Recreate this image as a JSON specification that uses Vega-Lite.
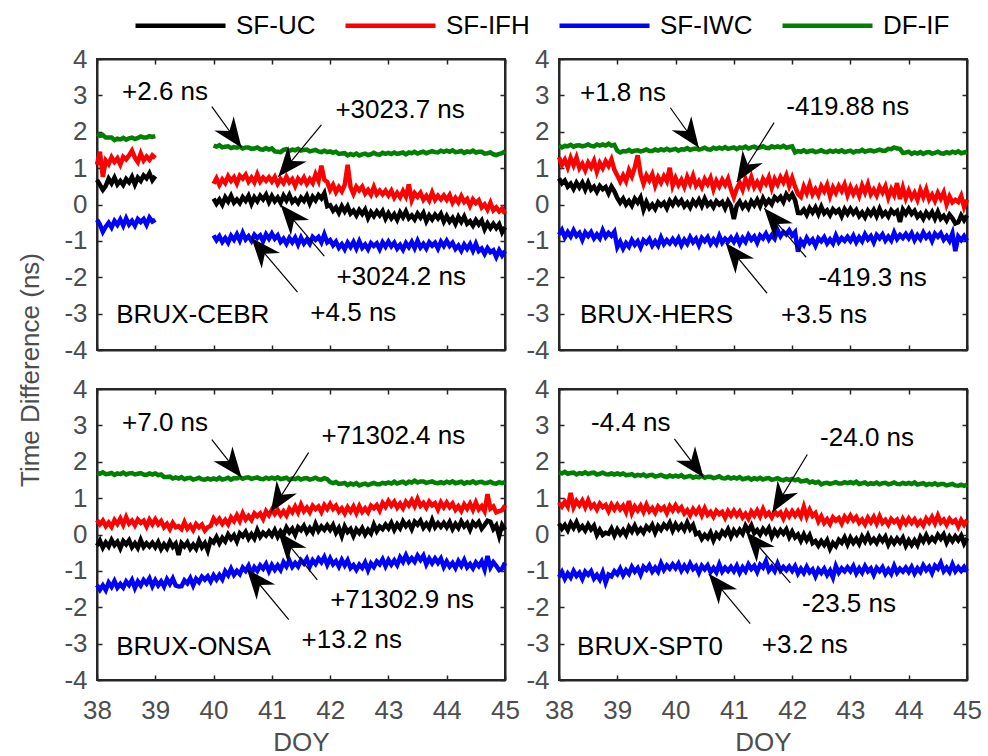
{
"$schema": "https://vega.github.io/schema/vega-lite/v6.json",
"padding": {"left": 16, "top": -22, "right": 5, "bottom": 3},
"data": {"values": "doy,st,SF-UC,SF-IFH,SF-IWC,DF-IF\n38,C,.68,1.09,-.42,1.94\n38.05,C,.54,1.45,-.55,1.89\n38.1,C,.40,.76,-.75,1.91\n38.15,C,.51,1.21,-.61,1.84\n38.2,C,.71,1.11,-.50,1.84\n38.25,C,.58,1.30,-.63,1.84\n38.3,C,.74,1.17,-.45,1.77\n38.35,C,.55,1.27,-.56,1.81\n38.4,C,.65,1.10,-.41,1.79\n38.45,C,.54,1.31,-.58,1.83\n38.5,C,.70,1.24,-.38,1.78\n38.55,C,.61,1.35,-.55,1.82\n38.6,C,.76,1.48,-.45,1.84\n38.65,C,.55,1.29,-.58,1.80\n38.7,C,.74,1.17,-.40,1.83\n38.75,C,.65,1.40,-.48,1.87\n38.8,C,.80,1.21,-.40,1.84\n38.85,C,.72,1.32,-.56,1.84\n38.9,C,.86,1.23,-.36,1.88\n38.95,C,.67,1.35,-.47,1.86\n39,C,.78,1.28,-.42,1.88\n39.05,C,,,,\n39.1,C,,,,\n39.15,C,,,,\n39.2,C,,,,\n39.25,C,,,,\n39.3,C,,,,\n39.35,C,,,,\n39.4,C,,,,\n39.45,C,,,,\n39.5,C,,,,\n39.55,C,,,,\n39.6,C,,,,\n39.65,C,,,,\n39.7,C,,,,\n39.75,C,,,,\n39.8,C,,,,\n39.85,C,,,,\n39.9,C,,,,\n39.95,C,,,,\n40,C,.16,.57,-.85,1.62\n40.05,C,.02,.72,-.98,1.59\n40.1,C,.14,.54,-.87,1.63\n40.15,C,.00,.69,-1.03,1.57\n40.2,C,.20,.59,-.92,1.59\n40.25,C,.08,.78,-1.05,1.60\n40.3,C,.24,.65,-.86,1.55\n40.35,C,.05,.75,-.97,1.58\n40.4,C,.14,.58,-.82,1.56\n40.45,C,.04,.79,-.99,1.59\n40.5,C,.20,.71,-.78,1.54\n40.55,C,.10,.82,-.96,1.57\n40.6,C,.24,.63,-.87,1.57\n40.65,C,.02,.74,-1.00,1.53\n40.7,C,.20,.61,-.83,1.54\n40.75,C,.09,.83,-.92,1.57\n40.8,C,.24,.63,-.85,1.52\n40.85,C,.14,.74,-1.01,1.51\n40.9,C,.27,.65,-.82,1.55\n40.95,C,.07,.75,-.94,1.51\n41,C,.23,.63,-.80,1.54\n41.05,C,.09,.76,-.94,1.46\n41.1,C,.19,.57,-.85,1.45\n41.15,C,.05,.70,-1.03,1.44\n41.2,C,.24,.59,-.94,1.50\n41.25,C,.11,.76,-1.08,1.52\n41.3,C,.26,.61,-.92,1.47\n41.35,C,.07,.70,-1.04,1.51\n41.4,C,.15,.51,-.91,1.49\n41.45,C,.04,.71,-1.10,1.53\n41.5,C,.19,.61,-.91,1.48\n41.55,C,.10,.74,-1.07,1.50\n41.6,C,.24,.57,-.96,1.51\n41.65,C,.03,.70,-1.08,1.46\n41.7,C,.21,.59,-.89,1.48\n41.75,C,.11,.83,-.97,1.50\n41.8,C,.26,.65,-.89,1.46\n41.85,C,.17,1.07,-1.04,1.44\n41.9,C,.31,.68,-.82,1.48\n41.95,C,-.05,.62,-1.04,1.44\n42,C,-.02,.40,-.98,1.46\n42.05,C,-.17,.54,-1.12,1.42\n42.1,C,-.08,.34,-1.02,1.45\n42.15,C,-.23,.48,-1.19,1.39\n42.2,C,-.05,.36,-1.09,1.40\n42.25,C,-.19,.54,-1.23,1.41\n42.3,C,-.05,1.09,-1.05,1.35\n42.35,C,-.25,.48,-1.17,1.39\n42.4,C,-.17,.29,-1.03,1.36\n42.45,C,-.30,.49,-1.21,1.40\n42.5,C,-.15,.39,-1.01,1.35\n42.55,C,-.26,.49,-1.19,1.38\n42.6,C,-.14,.30,-1.10,1.40\n42.65,C,-.37,.40,-1.23,1.36\n42.7,C,-.21,.27,-1.06,1.38\n42.75,C,-.32,.48,-1.14,1.42\n42.8,C,-.19,.28,-1.07,1.38\n42.85,C,-.30,.38,-1.23,1.37\n42.9,C,-.18,.28,-1.04,1.42\n42.95,C,-.39,.38,-1.16,1.39\n43,C,-.24,.25,-1.02,1.42\n43.05,C,-.38,.38,-1.15,1.39\n43.1,C,-.27,.19,-1.05,1.43\n43.15,C,-.42,.32,-1.21,1.39\n43.2,C,-.22,.20,-1.11,1.41\n43.25,C,-.35,.37,-1.24,1.43\n43.3,C,-.19,.22,-1.06,1.38\n43.35,C,-.38,.55,-1.17,1.43\n43.4,C,-.30,.12,-1.03,1.41\n43.45,C,-.41,.31,-1.20,1.45\n43.5,C,-.25,.21,-1.00,1.40\n43.55,C,-.36,.32,-1.18,1.43\n43.6,C,-.23,.13,-1.08,1.45\n43.65,C,-.46,.24,-1.21,1.41\n43.7,C,-.30,.11,-1.04,1.44\n43.75,C,-.41,.33,-1.13,1.47\n43.8,C,-.28,.13,-1.05,1.44\n43.85,C,-.38,.24,-1.21,1.43\n43.9,C,-.26,.14,-1.02,1.48\n43.95,C,-.47,.25,-1.14,1.45\n44,C,-.32,.13,-1.00,1.48\n44.05,C,-.47,.26,-1.14,1.45\n44.1,C,-.37,.05,-1.05,1.49\n44.15,C,-.53,.18,-1.22,1.44\n44.2,C,-.34,.06,-1.13,1.45\n44.25,C,-.48,.23,-1.27,1.47\n44.3,C,-.33,.07,-1.10,1.42\n44.35,C,-.53,.15,-1.22,1.46\n44.4,C,-.46,-.04,-1.09,1.44\n44.45,C,-.58,.14,-1.27,1.48\n44.5,C,-.43,.04,-1.08,1.43\n44.55,C,-.55,.12,-1.28,1.45\n44.6,C,-.44,-.08,-1.21,1.45\n44.65,C,-.68,.00,-1.36,1.40\n44.7,C,-.52,-.14,-1.20,1.41\n44.75,C,-.65,.05,-1.31,1.43\n44.8,C,-.53,-.16,-1.26,1.38\n44.85,C,-.65,-.08,-1.44,1.36\n44.9,C,-.54,-.19,-1.26,1.39\n44.95,C,-.76,-.11,-1.40,1.41\n45,C,-.62,-.25,-1.28,1.46\n38,H,.72,1.30,-.83,1.62\n38.05,H,.58,1.09,-.70,1.57\n38.1,H,.66,1.23,-.90,1.61\n38.15,H,.49,1.02,-.76,1.60\n38.2,H,.57,1.28,-.88,1.64\n38.25,H,.43,1.08,-.71,1.59\n38.3,H,.60,1.29,-.86,1.62\n38.35,H,.47,1.00,-.78,1.63\n38.4,H,.60,1.12,-.97,1.60\n38.45,H,.41,.94,-.77,1.62\n38.5,H,.60,1.15,-.87,1.65\n38.55,H,.41,1.02,-.76,1.61\n38.6,H,.49,1.20,-.93,1.60\n38.65,H,.35,.90,-.82,1.65\n38.7,H,.51,1.14,-.93,1.62\n38.75,H,.42,1.00,-.71,1.65\n38.8,H,.48,1.19,-.89,1.62\n38.85,H,.31,1.06,-.78,1.67\n38.9,H,.49,1.24,-.86,1.62\n38.95,H,.36,.96,-.75,1.64\n39,H,.18,.80,-1.17,1.48\n39.05,H,.05,.63,-1.02,1.43\n39.1,H,.16,.80,-1.21,1.47\n39.15,H,.00,.64,-1.06,1.46\n39.2,H,.10,.94,-1.16,1.50\n39.25,H,-.03,.77,-.98,1.45\n39.3,H,.16,1.02,-1.11,1.48\n39.35,H,.05,1.35,-1.01,1.49\n39.4,H,.19,.83,-1.18,1.46\n39.45,H,-.14,.57,-.98,1.48\n39.5,H,.07,.80,-1.06,1.51\n39.55,H,-.10,.66,-.95,1.47\n39.6,H,.00,.83,-1.13,1.47\n39.65,H,-.12,.52,-1.01,1.51\n39.7,H,.06,.75,-1.13,1.48\n39.75,H,-.03,.60,-.91,1.52\n39.8,H,.05,.78,-1.09,1.49\n39.85,H,-.10,.64,-.98,1.53\n39.9,H,.10,1.01,-1.07,1.49\n39.95,H,-.01,.52,-.95,1.51\n40,H,.14,.73,-1.07,1.53\n40.05,H,.01,.54,-.93,1.48\n40.1,H,.11,.68,-1.12,1.52\n40.15,H,-.05,.49,-.97,1.51\n40.2,H,.05,.76,-1.08,1.55\n40.25,H,-.08,.57,-.90,1.50\n40.3,H,.10,.79,-1.04,1.53\n40.35,H,-.01,.52,-.94,1.54\n40.4,H,.13,.64,-1.12,1.51\n40.45,H,-.04,.48,-.92,1.53\n40.5,H,.16,.70,-1.01,1.56\n40.55,H,-.02,.56,-.90,1.52\n40.6,H,.06,.73,-1.08,1.51\n40.65,H,-.07,.42,-.96,1.56\n40.7,H,.09,.65,-1.08,1.53\n40.75,H,.00,.50,-.86,1.56\n40.8,H,.07,.68,-1.05,1.53\n40.85,H,-.10,.54,-.94,1.58\n40.9,H,.09,.71,-1.02,1.53\n40.95,H,-.04,.42,-.91,1.55\n41,H,-.40,.20,-1.03,1.57\n41.05,H,-.03,.44,-.88,1.52\n41.1,H,.08,.60,-1.07,1.57\n41.15,H,-.08,.41,-.92,1.55\n41.2,H,.03,.70,-1.03,1.59\n41.25,H,-.10,.51,-.84,1.54\n41.3,H,.09,.75,-.97,1.57\n41.35,H,-.02,.48,-.88,1.59\n41.4,H,.13,.62,-1.05,1.55\n41.45,H,-.04,.46,-.85,1.57\n41.5,H,.17,.70,-.93,1.60\n41.55,H,.01,.57,-.80,1.56\n41.6,H,.12,.75,-.96,1.55\n41.65,H,.01,.45,-.84,1.60\n41.7,H,.20,.70,-.94,1.57\n41.75,H,.12,.55,-.70,1.60\n41.8,H,.21,.75,-.87,1.57\n41.85,H,.07,.61,-.75,1.61\n41.9,H,.28,.80,-.82,1.56\n41.95,H,.16,.51,-.71,1.58\n42,H,.28,.73,-.85,1.60\n42.05,H,.12,.49,-.76,1.43\n42.1,H,-.23,.29,-1.30,1.47\n42.15,H,-.24,.21,-1.00,1.45\n42.2,H,-.14,.49,-1.11,1.49\n42.25,H,-.28,.31,-.92,1.44\n42.3,H,-.10,.55,-1.05,1.47\n42.35,H,-.22,.28,-.96,1.48\n42.4,H,-.08,.42,-1.13,1.44\n42.45,H,-.26,.26,-.93,1.46\n42.5,H,-.06,.50,-1.01,1.49\n42.55,H,-.24,.36,-.90,1.45\n42.6,H,-.16,.54,-1.07,1.44\n42.65,H,-.29,.23,-.96,1.48\n42.7,H,-.13,.47,-1.07,1.45\n42.75,H,-.22,.32,-.85,1.48\n42.8,H,-.15,.51,-1.03,1.45\n42.85,H,-.32,.37,-.92,1.49\n42.9,H,-.13,.55,-1.00,1.44\n42.95,H,-.26,.26,-.89,1.46\n43,H,-.12,.48,-1.00,1.48\n43.05,H,-.25,.29,-.86,1.43\n43.1,H,-.15,.44,-1.04,1.47\n43.15,H,-.32,.24,-.90,1.46\n43.2,H,-.22,.52,-1.01,1.50\n43.25,H,-.35,.33,-.82,1.45\n43.3,H,-.17,.56,-.96,1.48\n43.35,H,-.28,.28,-.87,1.49\n43.4,H,-.15,.41,-1.04,1.46\n43.45,H,-.32,.25,-.84,1.48\n43.5,H,-.12,.48,-.93,1.51\n43.55,H,-.30,.33,-.82,1.48\n43.6,H,-.21,.50,-.99,1.48\n43.65,H,-.33,.19,-.88,1.53\n43.7,H,-.16,.42,-.99,1.52\n43.75,H,-.25,.26,-.77,1.57\n43.8,H,-.18,.59,-.95,1.54\n43.85,H,-.48,.15,-.84,1.53\n43.9,H,-.14,.46,-.92,1.42\n43.95,H,-.26,.17,-.81,1.43\n44,H,-.12,.38,-.93,1.45\n44.05,H,-.26,.18,-.79,1.39\n44.1,H,-.17,.32,-.98,1.43\n44.15,H,-.34,.13,-.84,1.40\n44.2,H,-.25,.40,-.95,1.44\n44.25,H,-.39,.20,-.77,1.39\n44.3,H,-.22,.42,-.91,1.43\n44.35,H,-.34,.14,-.82,1.44\n44.4,H,-.21,.27,-1.00,1.40\n44.45,H,-.39,.10,-.80,1.42\n44.5,H,-.20,.32,-.89,1.45\n44.55,H,-.39,.16,-.79,1.41\n44.6,H,-.31,.33,-.97,1.40\n44.65,H,-.44,.00,-.87,1.44\n44.7,H,-.28,.22,-1.00,1.41\n44.75,H,-.38,.06,-.79,1.45\n44.8,H,-.52,.13,-1.28,1.42\n44.85,H,-.49,.07,-.88,1.46\n44.9,H,-.30,.24,-.98,1.41\n44.95,H,-.43,-.07,-.87,1.43\n45,H,-.30,.13,-1.00,1.45\n38,O,-.31,.40,-1.39,1.70\n38.05,O,-.17,.28,-1.52,1.67\n38.1,O,-.36,.38,-1.40,1.71\n38.15,O,-.22,.23,-1.53,1.66\n38.2,O,-.33,.33,-1.32,1.67\n38.25,O,-.15,.21,-1.44,1.69\n38.3,O,-.29,.40,-1.28,1.64\n38.35,O,-.20,.29,-1.46,1.68\n38.4,O,-.38,.44,-1.36,1.66\n38.45,O,-.18,.27,-1.46,1.70\n38.5,O,-.27,.48,-1.29,1.65\n38.55,O,-.16,.30,-1.39,1.68\n38.6,O,-.35,.38,-1.25,1.69\n38.65,O,-.24,.25,-1.47,1.65\n38.7,O,-.37,.41,-1.29,1.67\n38.75,O,-.15,.32,-1.40,1.69\n38.8,O,-.34,.38,-1.25,1.65\n38.85,O,-.24,.22,-1.35,1.64\n38.9,O,-.33,.41,-1.21,1.68\n38.95,O,-.23,.28,-1.42,1.65\n39,O,-.35,.42,-1.26,1.68\n39.05,O,-.21,.28,-1.40,1.63\n39.1,O,-.40,.37,-1.29,1.65\n39.15,O,-.27,.20,-1.43,1.58\n39.2,O,-.38,.29,-1.23,1.58\n39.25,O,-.20,.15,-1.36,1.59\n39.3,O,-.34,.32,-1.21,1.54\n39.35,O,-.25,.20,-1.40,1.57\n39.4,O,-.56,.23,-1.43,1.54\n39.45,O,-.24,.15,-1.42,1.58\n39.5,O,-.33,.34,-1.26,1.52\n39.55,O,-.22,.16,-1.34,1.55\n39.6,O,-.39,.25,-1.20,1.56\n39.65,O,-.28,.12,-1.40,1.51\n39.7,O,-.39,.29,-1.22,1.53\n39.75,O,-.17,.20,-1.31,1.56\n39.8,O,-.35,.27,-1.16,1.52\n39.85,O,-.24,.11,-1.24,1.51\n39.9,O,-.44,.20,-1.15,1.54\n39.95,O,-.15,.24,-1.29,1.51\n40,O,-.22,.44,-1.12,1.54\n40.05,O,-.07,.32,-1.24,1.51\n40.1,O,-.24,.43,-1.11,1.56\n40.15,O,-.09,.29,-1.23,1.51\n40.2,O,-.19,.40,-1.01,1.53\n40.25,O,.00,.28,-1.12,1.56\n40.3,O,-.12,.47,-.94,1.51\n40.35,O,-.02,.37,-1.11,1.55\n40.4,O,-.19,.53,-1.00,1.54\n40.45,O,.03,.37,-1.09,1.58\n40.5,O,-.05,.58,-.91,1.53\n40.55,O,.07,.41,-1.00,1.56\n40.6,O,-.11,.51,-.86,1.57\n40.65,O,.01,.40,-1.08,1.53\n40.7,O,-.11,.58,-.90,1.55\n40.75,O,.12,.50,-1.00,1.57\n40.8,O,-.06,.58,-.85,1.53\n40.85,O,.05,.43,-.94,1.52\n40.9,O,-.03,.64,-.81,1.56\n40.95,O,.08,.53,-1.01,1.53\n41,O,-.03,.68,-.84,1.56\n41.05,O,.12,.56,-.97,1.53\n41.1,O,-.06,.67,-.85,1.57\n41.15,O,.09,.53,-.97,1.52\n41.2,O,-.01,.64,-.76,1.54\n41.25,O,.19,.52,-.88,1.56\n41.3,O,.06,.71,-.71,1.50\n41.35,O,.16,.61,-.89,1.54\n41.4,O,-.01,.77,-.78,1.52\n41.45,O,.20,.61,-.88,1.56\n41.5,O,.12,.82,-.71,1.51\n41.55,O,.24,.64,-.80,1.54\n41.6,O,.06,.74,-.67,1.55\n41.65,O,.18,.61,-.88,1.51\n41.7,O,.06,.79,-.71,1.53\n41.75,O,.29,.70,-.81,1.56\n41.8,O,.10,.77,-.66,1.52\n41.85,O,.22,.62,-.76,1.51\n41.9,O,.13,.81,-.62,1.55\n41.95,O,.25,.70,-.83,1.52\n42,O,.13,.84,-.66,1.44\n42.05,O,.26,.70,-.82,1.41\n42.1,O,.05,.79,-.73,1.44\n42.15,O,.18,.63,-.88,1.39\n42.2,O,-.04,.72,-.70,1.40\n42.25,O,.22,.58,-.85,1.42\n42.3,O,.07,.75,-.71,1.36\n42.35,O,.15,.63,-.92,1.40\n42.4,O,-.04,.77,-.84,1.37\n42.45,O,.14,.59,-.97,1.41\n42.5,O,.04,.78,-.83,1.35\n42.55,O,.17,.62,-.92,1.38\n42.6,O,.00,.72,-.77,1.40\n42.65,O,.13,.61,-.98,1.36\n42.7,O,.03,.79,-.79,1.39\n42.75,O,.27,.72,-.89,1.42\n42.8,O,.09,.81,-.74,1.38\n42.85,O,.22,.66,-.82,1.38\n42.9,O,.15,.87,-.68,1.42\n42.95,O,.27,.76,-.87,1.40\n43,O,.17,.92,-.70,1.43\n43.05,O,.32,.79,-.83,1.40\n43.1,O,.13,.90,-.71,1.45\n43.15,O,.28,.74,-.84,1.40\n43.2,O,.17,.85,-.63,1.43\n43.25,O,.36,.72,-.75,1.45\n43.3,O,.23,.90,-.57,1.40\n43.35,O,.32,.80,-.75,1.45\n43.4,O,.15,.94,-.65,1.43\n43.45,O,.35,.78,-.75,1.48\n43.5,O,.27,.98,-.58,1.43\n43.55,O,.38,.79,-.70,1.46\n43.6,O,.19,.87,-.58,1.46\n43.65,O,.30,.74,-.82,1.42\n43.7,O,.18,.90,-.66,1.44\n43.75,O,.40,.80,-.79,1.46\n43.8,O,.20,.86,-.66,1.42\n43.85,O,.31,.69,-.78,1.41\n43.9,O,.21,.88,-.66,1.44\n43.95,O,.32,.75,-.89,1.41\n44,O,.20,.88,-.74,1.45\n44.05,O,.34,.75,-.88,1.42\n44.1,O,.15,.85,-.78,1.46\n44.15,O,.29,.68,-.92,1.41\n44.2,O,.18,.78,-.73,1.43\n44.25,O,.36,.65,-.86,1.45\n44.3,O,.22,.83,-.70,1.40\n44.35,O,.31,.71,-.90,1.44\n44.4,O,.13,.85,-.81,1.42\n44.45,O,.33,.68,-.93,1.46\n44.5,O,.24,.88,-.77,1.41\n44.55,O,.34,.69,-.87,1.44\n44.6,O,.16,.78,-.74,1.45\n44.65,O,.26,.64,-.96,1.41\n44.7,O,.38,1.11,-.59,1.42\n44.75,O,.35,.71,-.90,1.45\n44.8,O,.15,.77,-.76,1.41\n44.85,O,.25,.61,-.86,1.40\n44.9,O,-.04,.64,-.98,1.44\n44.95,O,.26,.67,-.94,1.41\n45,O,.13,.80,-.78,1.44\n38,S,.30,.88,-1.17,1.71\n38.05,S,.16,.77,-1.03,1.68\n38.1,S,.26,.90,-1.22,1.72\n38.15,S,.12,.77,-1.07,1.67\n38.2,S,.31,1.14,-1.18,1.69\n38.25,S,.18,.75,-1.00,1.70\n38.3,S,.34,.92,-1.14,1.65\n38.35,S,.14,.80,-1.05,1.69\n38.4,S,.23,.93,-1.22,1.67\n38.45,S,.11,.75,-1.02,1.71\n38.5,S,.27,.94,-1.11,1.66\n38.55,S,.14,.75,-1.01,1.69\n38.6,S,.24,.83,-1.21,1.70\n38.65,S,-.01,.69,-1.11,1.65\n38.7,S,.13,.85,-1.24,1.67\n38.75,S,-.01,.75,-1.04,1.70\n38.8,S,.05,.81,-1.32,1.66\n38.85,S,.02,.64,-1.10,1.65\n38.9,S,.16,.82,-1.15,1.68\n38.95,S,-.03,.69,-1.01,1.65\n39,S,.14,.82,-1.09,1.68\n39.05,S,.01,.69,-.94,1.65\n39.1,S,.12,.79,-1.12,1.68\n39.15,S,-.01,.62,-.98,1.63\n39.2,S,.20,.92,-1.08,1.64\n39.25,S,.08,.59,-.89,1.66\n39.3,S,.24,.77,-1.02,1.61\n39.35,S,.06,.66,-.92,1.64\n39.4,S,.16,.79,-1.10,1.62\n39.45,S,.05,.62,-.89,1.65\n39.5,S,.22,.82,-.97,1.60\n39.55,S,.13,.64,-.85,1.63\n39.6,S,.26,.73,-1.02,1.64\n39.65,S,.05,.60,-.91,1.59\n39.7,S,.23,.77,-1.02,1.61\n39.75,S,.13,.68,-.79,1.64\n39.8,S,.27,.75,-.97,1.60\n39.85,S,.18,.59,-.85,1.58\n39.9,S,.32,.78,-.94,1.62\n39.95,S,.11,.66,-.82,1.59\n40,S,.28,.80,-.93,1.62\n40.05,S,.15,.66,-.80,1.59\n40.1,S,.26,.75,-.99,1.63\n40.15,S,.13,.58,-.86,1.57\n40.2,S,.33,.67,-.98,1.59\n40.25,S,.15,.53,-.80,1.61\n40.3,S,.26,.70,-.95,1.56\n40.35,S,.01,.58,-.87,1.59\n40.4,S,.05,.71,-1.05,1.57\n40.45,S,-.12,.53,-.86,1.61\n40.5,S,-.01,.72,-.96,1.56\n40.55,S,-.10,.54,-.85,1.59\n40.6,S,.05,.62,-1.03,1.59\n40.65,S,-.16,.49,-.92,1.55\n40.7,S,.02,.65,-1.04,1.57\n40.75,S,-.08,.56,-.82,1.60\n40.8,S,.08,.62,-1.02,1.55\n40.85,S,-.01,.46,-.91,1.54\n40.9,S,.14,.64,-1.00,1.58\n40.95,S,-.06,.52,-.89,1.54\n41,S,.11,.65,-1.01,1.57\n41.05,S,.00,.52,-.86,1.54\n41.1,S,.13,.63,-1.05,1.58\n41.15,S,.02,.47,-.90,1.52\n41.2,S,.24,.57,-1.01,1.54\n41.25,S,.10,.44,-.82,1.56\n41.3,S,.25,.63,-.95,1.51\n41.35,S,.04,.52,-.86,1.55\n41.4,S,.12,.66,-1.03,1.52\n41.45,S,.00,.50,-.83,1.56\n41.5,S,.15,.70,-.91,1.51\n41.55,S,.04,.52,-.73,1.54\n41.6,S,.17,.60,-.99,1.55\n41.65,S,-.06,.47,-.89,1.50\n41.7,S,.11,.63,-1.01,1.52\n41.75,S,-.01,.54,-.80,1.55\n41.8,S,.12,.61,-.99,1.51\n41.85,S,.02,.44,-.89,1.49\n41.9,S,.14,.63,-.98,1.53\n41.95,S,-.07,.50,-.88,1.50\n42,S,.08,.64,-1.00,1.53\n42.05,S,-.08,.52,-.87,1.49\n42.1,S,.00,.64,-1.07,1.52\n42.15,S,-.17,.49,-.94,1.46\n42.2,S,.00,.76,-1.06,1.47\n42.25,S,-.16,.49,-.89,1.49\n42.3,S,-.02,.68,-1.04,1.43\n42.35,S,-.24,.51,-.96,1.46\n42.4,S,-.18,.59,-1.15,1.42\n42.45,S,-.31,.36,-.96,1.45\n42.5,S,-.18,.50,-1.06,1.38\n42.55,S,-.29,.32,-.94,1.41\n42.6,S,-.16,.42,-1.11,1.42\n42.65,S,-.39,.29,-.99,1.39\n42.7,S,-.23,.47,-1.18,1.41\n42.75,S,-.32,.38,-.87,1.44\n42.8,S,-.15,.45,-1.05,1.40\n42.85,S,-.23,.30,-.93,1.40\n42.9,S,-.08,.49,-1.01,1.44\n42.95,S,-.27,.38,-.90,1.41\n43,S,-.09,.52,-1.01,1.44\n43.05,S,-.23,.39,-.87,1.41\n43.1,S,-.12,.48,-1.07,1.45\n43.15,S,-.26,.32,-.93,1.39\n43.2,S,-.06,.41,-1.05,1.41\n43.25,S,-.19,.28,-.87,1.43\n43.3,S,-.02,.46,-1.01,1.38\n43.35,S,-.21,.34,-.93,1.41\n43.4,S,-.12,.48,-1.11,1.39\n43.45,S,-.23,.30,-.92,1.43\n43.5,S,-.07,.50,-1.01,1.38\n43.55,S,-.18,.32,-.90,1.41\n43.6,S,-.06,.40,-1.08,1.42\n43.65,S,-.28,.27,-.96,1.38\n43.7,S,-.12,.43,-1.08,1.40\n43.75,S,-.24,.34,-.86,1.43\n43.8,S,-.11,.41,-1.05,1.39\n43.85,S,-.22,.24,-.94,1.38\n43.9,S,-.09,.43,-1.02,1.42\n43.95,S,-.31,.30,-.91,1.39\n44,S,-.16,.44,-1.03,1.42\n44.05,S,-.29,.32,-.89,1.39\n44.1,S,-.16,.42,-1.07,1.43\n44.15,S,-.29,.27,-.93,1.37\n44.2,S,-.07,.37,-1.03,1.39\n44.25,S,-.19,.25,-.85,1.41\n44.3,S,-.02,.44,-.98,1.36\n44.35,S,-.19,.33,-.89,1.39\n44.4,S,-.09,.48,-1.06,1.37\n44.45,S,-.18,.31,-.86,1.41\n44.5,S,-.01,.52,-.94,1.36\n44.55,S,-.12,.33,-.78,1.39\n44.6,S,.00,.41,-1.01,1.39\n44.65,S,-.22,.27,-.91,1.35\n44.7,S,-.06,.43,-1.03,1.37\n44.75,S,-.18,.33,-.82,1.39\n44.8,S,-.05,.39,-1.01,1.35\n44.85,S,-.16,.22,-.90,1.34\n44.9,S,-.03,.40,-1.00,1.37\n44.95,S,-.25,.27,-.89,1.34\n45,S,-.10,.40,-1.01,1.37", "format": {"type": "csv", "parse": {"doy": "number", "SF-UC": "number", "SF-IFH": "number", "SF-IWC": "number", "DF-IF": "number"}}},
"columns": 2,
"spacing": {"row": 39, "column": 54},
"bounds": "flush",
"concat": [
 {
  "width": 408, "height": 291,
  "layer": [
   {"transform": [{"filter": "datum.st === 'C'"}, {"fold": ["SF-UC", "SF-IFH", "SF-IWC", "DF-IF"], "as": ["series", "value"]}],
    "mark": {"type": "line", "invalid": "break-paths-filter-domains"},
    "encoding": {
     "x": {"field": "doy", "type": "quantitative", "scale": {"domain": [38, 45], "nice": false}, "axis": {"orient": "bottom", "values": [38, 39, 40, 41, 42, 43, 44, 45], "labels": false, "title": null}},
     "y": {"field": "value", "type": "quantitative", "scale": {"domain": [-4, 4], "nice": false}, "axis": {"orient": "left", "values": [-4, -3, -2, -1, 0, 1, 2, 3, 4], "labelExpr": "'' + datum.value", "title": "Time Difference (ns)", "titleY": 310.5, "titlePadding": 20}},
     "color": {"field": "series", "type": "nominal", "scale": {"domain": ["SF-UC", "SF-IFH", "SF-IWC", "DF-IF"], "range": ["#000000", "#ff0000", "#0000ff", "#008000"]}, "legend": {"orient": "none", "legendX": 36, "legendY": -81, "direction": "horizontal", "title": null, "symbolType": "stroke", "symbolSize": 8100, "symbolStrokeWidth": 2.5, "labelFontSize": 26, "labelColor": "#000000", "labelOffset": 8, "columnPadding": 20, "labelLimit": 0}},
     "strokeWidth": {"field": "series", "type": "nominal", "scale": {"domain": ["SF-UC", "SF-IFH", "SF-IWC", "DF-IF"], "range": [4.5, 4.5, 4.5, 3]}, "legend": null}
    }},
   {"data": {"values": [{"x": 39.97, "y": 2.69, "x2": 40.48, "y2": 1.56}, {"x": 41.85, "y": 2.19, "x2": 41.11, "y2": 0.76}, {"x": 41.90, "y": -1.42, "x2": 41.15, "y2": -0.01}, {"x": 41.44, "y": -2.41, "x2": 40.65, "y2": -0.92}]},
    "mark": {"type": "rule", "color": "#000000", "strokeWidth": 1.2},
    "encoding": {
     "x": {"field": "x", "type": "quantitative", "scale": {"domain": [38, 45], "nice": false}, "axis": {"orient": "top", "values": [38, 39, 40, 41, 42, 43, 44, 45], "labels": false, "title": null}},
     "y": {"field": "y", "type": "quantitative", "scale": {"domain": [-4, 4], "nice": false}, "axis": {"orient": "right", "values": [-4, -3, -2, -1, 0, 1, 2, 3, 4], "labels": false, "title": null}},
     "x2": {"field": "x2"}, "y2": {"field": "y2"}
    }},
   {"data": {"values": [{"x": 39.97, "y": 2.69, "x2": 40.48, "y2": 1.56}, {"x": 41.85, "y": 2.19, "x2": 41.11, "y2": 0.76}, {"x": 41.90, "y": -1.42, "x2": 41.15, "y2": -0.01}, {"x": 41.44, "y": -2.41, "x2": 40.65, "y2": -0.92}]},
    "transform": [{"calculate": "atan2(-(datum.y2 - datum.y) * 36.4, (datum.x2 - datum.x) * 58.29) * 180 / PI", "as": "ang"}],
    "mark": {"type": "point", "shape": "M0,0L-2,-0.8L-1.38,0L-2,0.8Z", "filled": true, "color": "#000000", "opacity": 1, "size": 900, "strokeWidth": 0},
    "encoding": {
     "x": {"field": "x2", "type": "quantitative", "scale": {"domain": [38, 45], "nice": false}, "axis": null},
     "y": {"field": "y2", "type": "quantitative", "scale": {"domain": [-4, 4], "nice": false}, "axis": null},
     "angle": {"field": "ang", "type": "quantitative", "scale": null}
    }},
   {"data": {"values": [{"x": 38.43, "y": 3.10, "t": "+2.6 ns"}, {"x": 42.09, "y": 2.60, "t": "+3023.7 ns"}, {"x": 42.11, "y": -2.00, "t": "+3024.2 ns"}, {"x": 41.66, "y": -2.99, "t": "+4.5 ns"}, {"x": 38.33, "y": -3.04, "t": "BRUX-CEBR"}]},
    "mark": {"type": "text", "align": "left", "baseline": "middle", "fontSize": 26, "font": "Liberation Sans", "color": "#000000"},
    "encoding": {
     "x": {"field": "x", "type": "quantitative", "scale": {"domain": [38, 45], "nice": false}, "axis": null},
     "y": {"field": "y", "type": "quantitative", "scale": {"domain": [-4, 4], "nice": false}, "axis": null},
     "text": {"field": "t", "type": "nominal"}
    }}
  ],
  "resolve": {"axis": {"x": "independent", "y": "independent"}}
 },
 {
  "width": 408, "height": 291,
  "layer": [
   {"transform": [{"filter": "datum.st === 'H'"}, {"fold": ["SF-UC", "SF-IFH", "SF-IWC", "DF-IF"], "as": ["series", "value"]}],
    "mark": {"type": "line", "invalid": "break-paths-filter-domains"},
    "encoding": {
     "x": {"field": "doy", "type": "quantitative", "scale": {"domain": [38, 45], "nice": false}, "axis": {"orient": "bottom", "values": [38, 39, 40, 41, 42, 43, 44, 45], "labels": false, "title": null}},
     "y": {"field": "value", "type": "quantitative", "scale": {"domain": [-4, 4], "nice": false}, "axis": {"orient": "left", "values": [-4, -3, -2, -1, 0, 1, 2, 3, 4], "labelExpr": "'' + datum.value", "title": null}},
     "color": {"field": "series", "type": "nominal", "scale": {"domain": ["SF-UC", "SF-IFH", "SF-IWC", "DF-IF"], "range": ["#000000", "#ff0000", "#0000ff", "#008000"]}, "legend": {"orient": "none", "legendX": 36, "legendY": -81, "direction": "horizontal", "title": null, "symbolType": "stroke", "symbolSize": 8100, "symbolStrokeWidth": 2.5, "labelFontSize": 26, "labelColor": "#000000", "labelOffset": 8, "columnPadding": 20, "labelLimit": 0}},
     "strokeWidth": {"field": "series", "type": "nominal", "scale": {"domain": ["SF-UC", "SF-IFH", "SF-IWC", "DF-IF"], "range": [4.5, 4.5, 4.5, 3]}, "legend": null}
    }},
   {"data": {"values": [{"x": 39.91, "y": 2.66, "x2": 40.40, "y2": 1.56}, {"x": 41.69, "y": 2.25, "x2": 41.05, "y2": 0.62}, {"x": 42.24, "y": -1.45, "x2": 41.52, "y2": -0.10}, {"x": 41.57, "y": -2.44, "x2": 40.86, "y2": -1.06}]},
    "mark": {"type": "rule", "color": "#000000", "strokeWidth": 1.2},
    "encoding": {
     "x": {"field": "x", "type": "quantitative", "scale": {"domain": [38, 45], "nice": false}, "axis": {"orient": "top", "values": [38, 39, 40, 41, 42, 43, 44, 45], "labels": false, "title": null}},
     "y": {"field": "y", "type": "quantitative", "scale": {"domain": [-4, 4], "nice": false}, "axis": {"orient": "right", "values": [-4, -3, -2, -1, 0, 1, 2, 3, 4], "labels": false, "title": null}},
     "x2": {"field": "x2"}, "y2": {"field": "y2"}
    }},
   {"data": {"values": [{"x": 39.91, "y": 2.66, "x2": 40.40, "y2": 1.56}, {"x": 41.69, "y": 2.25, "x2": 41.05, "y2": 0.62}, {"x": 42.24, "y": -1.45, "x2": 41.52, "y2": -0.10}, {"x": 41.57, "y": -2.44, "x2": 40.86, "y2": -1.06}]},
    "transform": [{"calculate": "atan2(-(datum.y2 - datum.y) * 36.4, (datum.x2 - datum.x) * 58.29) * 180 / PI", "as": "ang"}],
    "mark": {"type": "point", "shape": "M0,0L-2,-0.8L-1.38,0L-2,0.8Z", "filled": true, "color": "#000000", "opacity": 1, "size": 900, "strokeWidth": 0},
    "encoding": {
     "x": {"field": "x2", "type": "quantitative", "scale": {"domain": [38, 45], "nice": false}, "axis": null},
     "y": {"field": "y2", "type": "quantitative", "scale": {"domain": [-4, 4], "nice": false}, "axis": null},
     "angle": {"field": "ang", "type": "quantitative", "scale": null}
    }},
   {"data": {"values": [{"x": 38.36, "y": 3.07, "t": "+1.8 ns"}, {"x": 41.90, "y": 2.69, "t": "-419.88 ns"}, {"x": 42.45, "y": -2.02, "t": "-419.3 ns"}, {"x": 41.81, "y": -3.05, "t": "+3.5 ns"}, {"x": 38.36, "y": -3.04, "t": "BRUX-HERS"}]},
    "mark": {"type": "text", "align": "left", "baseline": "middle", "fontSize": 26, "font": "Liberation Sans", "color": "#000000"},
    "encoding": {
     "x": {"field": "x", "type": "quantitative", "scale": {"domain": [38, 45], "nice": false}, "axis": null},
     "y": {"field": "y", "type": "quantitative", "scale": {"domain": [-4, 4], "nice": false}, "axis": null},
     "text": {"field": "t", "type": "nominal"}
    }}
  ],
  "resolve": {"axis": {"x": "independent", "y": "independent"}}
 },
 {
  "width": 408, "height": 291,
  "layer": [
   {"transform": [{"filter": "datum.st === 'O'"}, {"fold": ["SF-UC", "SF-IFH", "SF-IWC", "DF-IF"], "as": ["series", "value"]}],
    "mark": {"type": "line", "invalid": "break-paths-filter-domains"},
    "encoding": {
     "x": {"field": "doy", "type": "quantitative", "scale": {"domain": [38, 45], "nice": false}, "axis": {"orient": "bottom", "values": [38, 39, 40, 41, 42, 43, 44, 45], "labelFlush": false, "labelExpr": "'' + datum.value", "labelPadding": 22, "title": "DOY", "titlePadding": 6}},
     "y": {"field": "value", "type": "quantitative", "scale": {"domain": [-4, 4], "nice": false}, "axis": {"orient": "left", "values": [-4, -3, -2, -1, 0, 1, 2, 3, 4], "labelExpr": "'' + datum.value", "title": null}},
     "color": {"field": "series", "type": "nominal", "scale": {"domain": ["SF-UC", "SF-IFH", "SF-IWC", "DF-IF"], "range": ["#000000", "#ff0000", "#0000ff", "#008000"]}, "legend": {"orient": "none", "legendX": 36, "legendY": -81, "direction": "horizontal", "title": null, "symbolType": "stroke", "symbolSize": 8100, "symbolStrokeWidth": 2.5, "labelFontSize": 26, "labelColor": "#000000", "labelOffset": 8, "columnPadding": 20, "labelLimit": 0}},
     "strokeWidth": {"field": "series", "type": "nominal", "scale": {"domain": ["SF-UC", "SF-IFH", "SF-IWC", "DF-IF"], "range": [4.5, 4.5, 4.5, 3]}, "legend": null}
    }},
   {"data": {"values": [{"x": 39.97, "y": 2.61, "x2": 40.48, "y2": 1.57}, {"x": 41.63, "y": 2.25, "x2": 40.98, "y2": 0.61}, {"x": 41.78, "y": -1.25, "x2": 41.11, "y2": 0.07}, {"x": 41.29, "y": -2.34, "x2": 40.57, "y2": -0.95}]},
    "mark": {"type": "rule", "color": "#000000", "strokeWidth": 1.2},
    "encoding": {
     "x": {"field": "x", "type": "quantitative", "scale": {"domain": [38, 45], "nice": false}, "axis": {"orient": "top", "values": [38, 39, 40, 41, 42, 43, 44, 45], "labels": false, "title": null}},
     "y": {"field": "y", "type": "quantitative", "scale": {"domain": [-4, 4], "nice": false}, "axis": {"orient": "right", "values": [-4, -3, -2, -1, 0, 1, 2, 3, 4], "labels": false, "title": null}},
     "x2": {"field": "x2"}, "y2": {"field": "y2"}
    }},
   {"data": {"values": [{"x": 39.97, "y": 2.61, "x2": 40.48, "y2": 1.57}, {"x": 41.63, "y": 2.25, "x2": 40.98, "y2": 0.61}, {"x": 41.78, "y": -1.25, "x2": 41.11, "y2": 0.07}, {"x": 41.29, "y": -2.34, "x2": 40.57, "y2": -0.95}]},
    "transform": [{"calculate": "atan2(-(datum.y2 - datum.y) * 36.4, (datum.x2 - datum.x) * 58.29) * 180 / PI", "as": "ang"}],
    "mark": {"type": "point", "shape": "M0,0L-2,-0.8L-1.38,0L-2,0.8Z", "filled": true, "color": "#000000", "opacity": 1, "size": 900, "strokeWidth": 0},
    "encoding": {
     "x": {"field": "x2", "type": "quantitative", "scale": {"domain": [38, 45], "nice": false}, "axis": null},
     "y": {"field": "y2", "type": "quantitative", "scale": {"domain": [-4, 4], "nice": false}, "axis": null},
     "angle": {"field": "ang", "type": "quantitative", "scale": null}
    }},
   {"data": {"values": [{"x": 38.43, "y": 3.07, "t": "+7.0 ns"}, {"x": 41.85, "y": 2.72, "t": "+71302.4 ns"}, {"x": 42.00, "y": -1.79, "t": "+71302.9 ns"}, {"x": 41.51, "y": -2.91, "t": "+13.2 ns"}, {"x": 38.33, "y": -3.08, "t": "BRUX-ONSA"}]},
    "mark": {"type": "text", "align": "left", "baseline": "middle", "fontSize": 26, "font": "Liberation Sans", "color": "#000000"},
    "encoding": {
     "x": {"field": "x", "type": "quantitative", "scale": {"domain": [38, 45], "nice": false}, "axis": null},
     "y": {"field": "y", "type": "quantitative", "scale": {"domain": [-4, 4], "nice": false}, "axis": null},
     "text": {"field": "t", "type": "nominal"}
    }}
  ],
  "resolve": {"axis": {"x": "independent", "y": "independent"}}
 },
 {
  "width": 408, "height": 291,
  "layer": [
   {"transform": [{"filter": "datum.st === 'S'"}, {"fold": ["SF-UC", "SF-IFH", "SF-IWC", "DF-IF"], "as": ["series", "value"]}],
    "mark": {"type": "line", "invalid": "break-paths-filter-domains"},
    "encoding": {
     "x": {"field": "doy", "type": "quantitative", "scale": {"domain": [38, 45], "nice": false}, "axis": {"orient": "bottom", "values": [38, 39, 40, 41, 42, 43, 44, 45], "labelFlush": false, "labelExpr": "'' + datum.value", "labelPadding": 22, "title": "DOY", "titlePadding": 6}},
     "y": {"field": "value", "type": "quantitative", "scale": {"domain": [-4, 4], "nice": false}, "axis": {"orient": "left", "values": [-4, -3, -2, -1, 0, 1, 2, 3, 4], "labelExpr": "'' + datum.value", "title": null}},
     "color": {"field": "series", "type": "nominal", "scale": {"domain": ["SF-UC", "SF-IFH", "SF-IWC", "DF-IF"], "range": ["#000000", "#ff0000", "#0000ff", "#008000"]}, "legend": {"orient": "none", "legendX": 36, "legendY": -81, "direction": "horizontal", "title": null, "symbolType": "stroke", "symbolSize": 8100, "symbolStrokeWidth": 2.5, "labelFontSize": 26, "labelColor": "#000000", "labelOffset": 8, "columnPadding": 20, "labelLimit": 0}},
     "strokeWidth": {"field": "series", "type": "nominal", "scale": {"domain": ["SF-UC", "SF-IFH", "SF-IWC", "DF-IF"], "range": [4.5, 4.5, 4.5, 3]}, "legend": null}
    }},
   {"data": {"values": [{"x": 39.98, "y": 2.63, "x2": 40.48, "y2": 1.57}, {"x": 42.26, "y": 2.20, "x2": 41.66, "y2": 0.61}, {"x": 41.97, "y": -1.33, "x2": 41.21, "y2": 0.07}, {"x": 41.28, "y": -2.45, "x2": 40.57, "y2": -1.08}]},
    "mark": {"type": "rule", "color": "#000000", "strokeWidth": 1.2},
    "encoding": {
     "x": {"field": "x", "type": "quantitative", "scale": {"domain": [38, 45], "nice": false}, "axis": {"orient": "top", "values": [38, 39, 40, 41, 42, 43, 44, 45], "labels": false, "title": null}},
     "y": {"field": "y", "type": "quantitative", "scale": {"domain": [-4, 4], "nice": false}, "axis": {"orient": "right", "values": [-4, -3, -2, -1, 0, 1, 2, 3, 4], "labels": false, "title": null}},
     "x2": {"field": "x2"}, "y2": {"field": "y2"}
    }},
   {"data": {"values": [{"x": 39.98, "y": 2.63, "x2": 40.48, "y2": 1.57}, {"x": 42.26, "y": 2.20, "x2": 41.66, "y2": 0.61}, {"x": 41.97, "y": -1.33, "x2": 41.21, "y2": 0.07}, {"x": 41.28, "y": -2.45, "x2": 40.57, "y2": -1.08}]},
    "transform": [{"calculate": "atan2(-(datum.y2 - datum.y) * 36.4, (datum.x2 - datum.x) * 58.29) * 180 / PI", "as": "ang"}],
    "mark": {"type": "point", "shape": "M0,0L-2,-0.8L-1.38,0L-2,0.8Z", "filled": true, "color": "#000000", "opacity": 1, "size": 900, "strokeWidth": 0},
    "encoding": {
     "x": {"field": "x2", "type": "quantitative", "scale": {"domain": [38, 45], "nice": false}, "axis": null},
     "y": {"field": "y2", "type": "quantitative", "scale": {"domain": [-4, 4], "nice": false}, "axis": null},
     "angle": {"field": "ang", "type": "quantitative", "scale": null}
    }},
   {"data": {"values": [{"x": 38.55, "y": 3.07, "t": "-4.4 ns"}, {"x": 42.48, "y": 2.66, "t": "-24.0 ns"}, {"x": 42.17, "y": -1.90, "t": "-23.5 ns"}, {"x": 41.48, "y": -3.05, "t": "+3.2 ns"}, {"x": 38.31, "y": -3.08, "t": "BRUX-SPT0"}]},
    "mark": {"type": "text", "align": "left", "baseline": "middle", "fontSize": 26, "font": "Liberation Sans", "color": "#000000"},
    "encoding": {
     "x": {"field": "x", "type": "quantitative", "scale": {"domain": [38, 45], "nice": false}, "axis": null},
     "y": {"field": "y", "type": "quantitative", "scale": {"domain": [-4, 4], "nice": false}, "axis": null},
     "text": {"field": "t", "type": "nominal"}
    }}
  ],
  "resolve": {"axis": {"x": "independent", "y": "independent"}}
 }
],
"config": {
 "font": "Liberation Sans",
 "view": {"stroke": "#262626", "strokeWidth": 2},
 "axis": {"grid": false, "domainColor": "#262626", "domainWidth": 2, "tickColor": "#262626", "tickWidth": 1.5, "tickSize": -5, "labelFont": "Liberation Sans", "labelFontSize": 26, "labelColor": "#4d4d4d", "labelPadding": 15, "titleFont": "Liberation Sans", "titleFontSize": 26, "titleColor": "#4d4d4d", "titleFontWeight": "normal"},
 "legend": {"labelFont": "Liberation Sans"}
}
}
